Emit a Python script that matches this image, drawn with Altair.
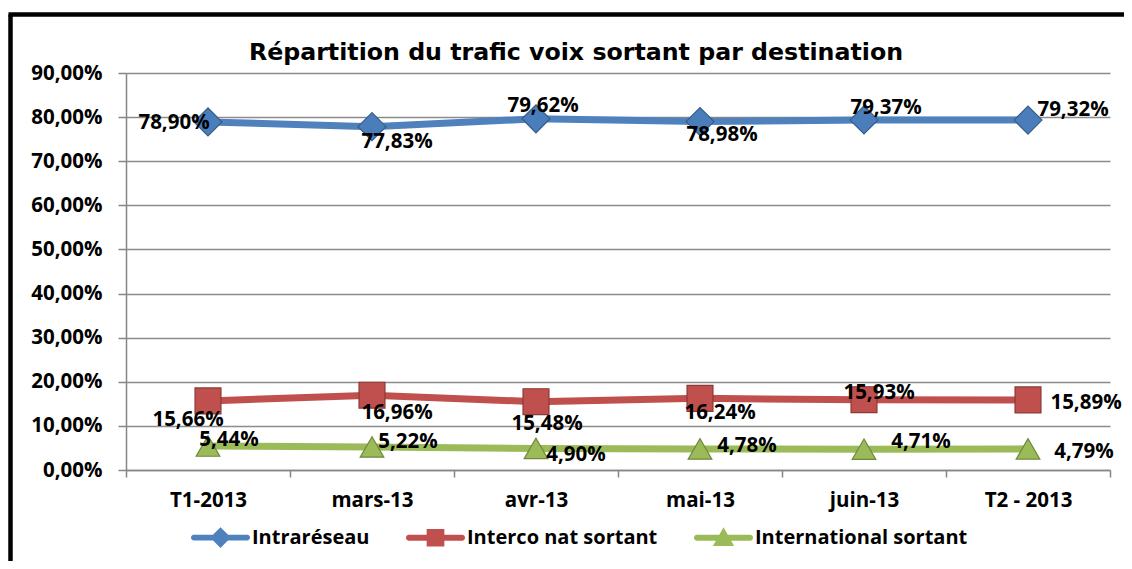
import altair as alt
import pandas as pd

# ---- data ----
CATEGORIES = ["T1-2013", "mars-13", "avr-13", "mai-13", "juin-13", "T2 - 2013"]
SERIES = ["Intraréseau", "Interco nat sortant", "International sortant"]
INTRARESEAU = [78.90, 77.83, 79.62, 78.98, 79.37, 79.32]
INTERCO = [15.66, 16.96, 15.48, 16.24, 15.93, 15.89]
INTERNATIONAL = [5.44, 5.22, 4.90, 4.78, 4.71, 4.79]
Y_TICKS = [0, 10, 20, 30, 40, 50, 60, 70, 80, 90]

# ---- styling (label offsets in px, kept apart from data) ----
LABEL_OFFSETS = {
    "Intraréseau": [(-34, 1), (25, 15), (7, -13), (22, 13), (22, -12), (45, -10)],
    "Interco nat sortant": [(-20, 19), (25, 18), (11, 22), (20, 15), (15, -7), (58, 3)],
    "International sortant": [(21, -6), (36, -5), (40, 7), (47, -3), (57, -7), (56, 3)],
}
LINE_COLORS = ["#4F81BD", "#C0504D", "#9BBB59"]
MARKER_FILLS = ["#4A7EBB", "#C0504D", "#9BBB59"]
MARKER_STROKES = ["#385D8A", "#8C3836", "#71893F"]
MARKER_SHAPES = ["diamond", "square", "triangle-up"]
MARKER_SIZES = [784, 560, 900]
BAR = ("M-0.9,-0.1 L0.9,-0.1 A0.1,0.1 0 0 1 0.9,0.1 "
       "L-0.9,0.1 A0.1,0.1 0 0 1 -0.9,-0.1 Z ")
LEGEND_SHAPES = [
    BAR + "M0,-0.35 L0.35,0 L0,0.35 L-0.35,0 Z",
    BAR + "M-0.3,-0.3 L0.3,-0.3 L0.3,0.3 L-0.3,0.3 Z",
    BAR + "M0,-0.36 L0.36,0.28 L-0.36,0.28 Z",
]
FONT = "Open Sans"
FS = 20.5
LEG_FS = 20

rows = []
for s, vals in zip(SERIES, [INTRARESEAU, INTERCO, INTERNATIONAL]):
    for i, (c, v) in enumerate(zip(CATEGORIES, vals)):
        dx, dy = LABEL_OFFSETS[s][i]
        rows.append({"series": s, "cat": c, "value": v,
                     "label": f"{v:.2f}%".replace(".", ","), "ldx": dx, "ldy": dy})
df = pd.DataFrame(rows)

x_enc = alt.X("cat:N", sort=CATEGORIES,
              scale=alt.Scale(type="band", paddingInner=0, paddingOuter=0),
              axis=alt.Axis(title=None, labelAngle=0, labelFont=FONT, labelFontSize=FS,
                            labelFontWeight="bold", labelColor="black",
                            domainColor="#868686", domainWidth=1.5,
                            tickColor="#868686", tickWidth=1.5, tickSize=7,
                            tickBand="extent", labelPadding=13, grid=False))
y_enc = alt.Y("value:Q", scale=alt.Scale(domain=[0, 90], nice=False, zero=True),
              axis=alt.Axis(title=None, values=Y_TICKS,
                            labelExpr="replace(format(datum.value, '.2f'), '.', ',') + '%'",
                            labelFont=FONT, labelFontSize=FS, labelFontWeight="bold",
                            labelColor="black", labelPadding=16,
                            domainColor="#868686", domainWidth=1.5,
                            tickColor="#868686", tickWidth=1.5, tickSize=8,
                            grid=True, gridColor="#8c8c8c", gridWidth=1.5))

base = alt.Chart(df)

lines = base.mark_line(strokeWidth=7).encode(
    x=x_enc, y=y_enc,
    color=alt.Color("series:N", scale=alt.Scale(domain=SERIES, range=LINE_COLORS), legend=None),
    detail="series:N",
)

points = base.mark_point(filled=True, opacity=1, strokeWidth=1.2).encode(
    x=x_enc, y=y_enc,
    color=alt.Color("series:N", scale=alt.Scale(domain=SERIES, range=MARKER_FILLS), legend=None),
    stroke=alt.Stroke("series:N", scale=alt.Scale(domain=SERIES, range=MARKER_STROKES), legend=None),
    shape=alt.Shape("series:N", scale=alt.Scale(domain=SERIES, range=MARKER_SHAPES), legend=None),
    size=alt.Size("series:N", scale=alt.Scale(domain=SERIES, range=MARKER_SIZES), legend=None),
)

texts = base.mark_text(font=FONT, fontSize=FS, fontWeight="bold", color="black",
                       align="center", baseline="middle",
                       dx=alt.ExprRef("datum.ldx"), dy=alt.ExprRef("datum.ldy")).encode(
    x=x_enc, y=y_enc, text="label:N")

leg = alt.Legend(title=None, orient="none", legendX=65, legendY=435, direction="horizontal",
                 symbolSize=3481, symbolStrokeWidth=0, symbolOpacity=1,
                 labelFont=FONT, labelFontSize=LEG_FS, labelFontWeight="bold", labelColor="black",
                 labelOffset=2, labelLimit=400, columnPadding=36, padding=0)

legend_layer = base.transform_filter("false").mark_point(filled=True, opacity=1).encode(
    x=x_enc, y=y_enc,
    color=alt.Color("series:N", scale=alt.Scale(domain=SERIES, range=LINE_COLORS), legend=leg),
    shape=alt.Shape("series:N", scale=alt.Scale(domain=SERIES, range=LEGEND_SHAPES), legend=leg),
)

frame_df = pd.DataFrame({"k": [0]})
frame_left = alt.Chart(frame_df).mark_rule(color="black", strokeWidth=4.5).encode(
    x=alt.value(-115.5), y=alt.value(-58.5), y2=alt.value(500))
frame_top = alt.Chart(frame_df).mark_rule(color="black", strokeWidth=4.5).encode(
    x=alt.value(-117.5), x2=alt.value(1000), y=alt.value(-58.5))

chart = alt.layer(frame_left, frame_top, lines, points, texts, legend_layer).resolve_scale(
    color="independent", shape="independent", size="independent", stroke="independent"
).properties(
    width=984, height=397,
    padding={"left": 118, "top": 65, "right": 14, "bottom": 91},
    autosize=alt.AutoSizeParams(type="none"),
    title=alt.TitleParams("Répartition du trafic voix sortant par destination",
                          font="DejaVu Sans", fontSize=23.7, fontWeight="bold", color="black",
                          anchor="middle", dx=-42, dy=62, offset=10),
).configure_view(stroke=None)

chart.save("out.html", embed_options={"renderer": "svg", "actions": False})
